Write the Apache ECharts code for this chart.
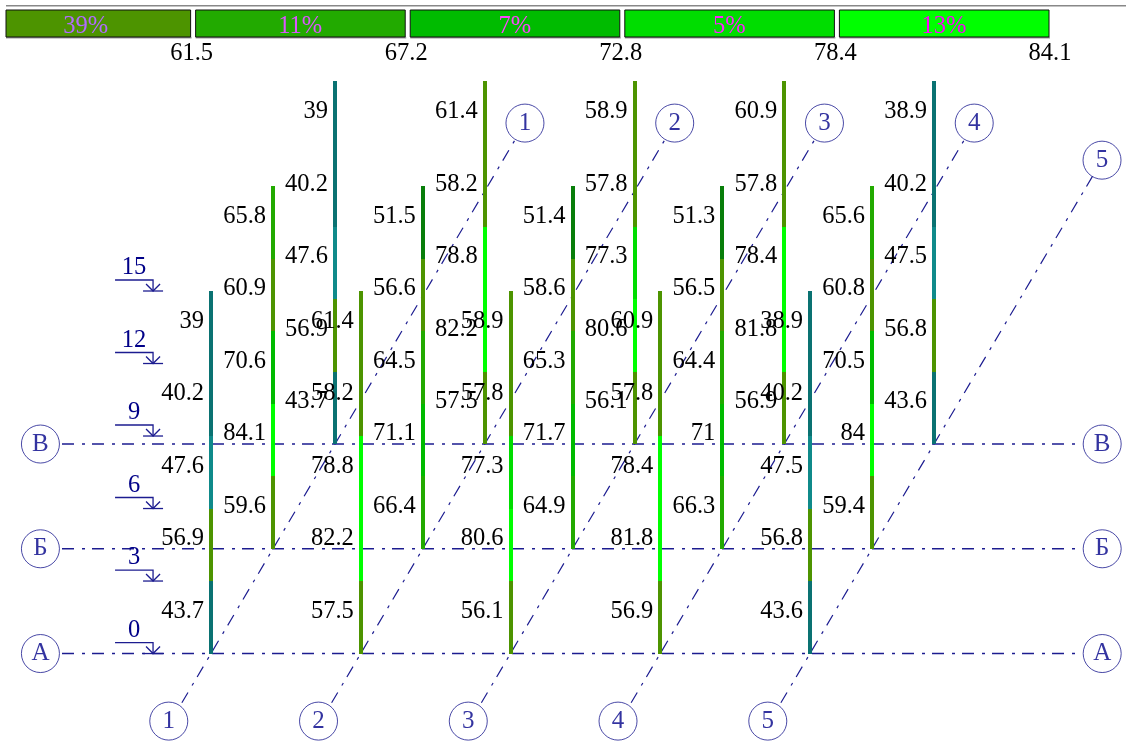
<!DOCTYPE html>
<html>
<head>
<meta charset="utf-8">
<style>
  html, body { margin: 0; padding: 0; background: #fff; }
  #chart { width: 1126px; height: 742px; }
</style>
</head>
<body>
<div id="chart"></div>
<script src="https://cdn.jsdelivr.net/npm/echarts@6/dist/echarts.min.js"></script>
<script>
  // grid names
  var rowNames = ['А', 'Б', 'В'];
  var colNames = ['1', '2', '3', '4', '5'];
  var levels = [0, 3, 6, 9, 12, 15];

  // values per column, bottom storey first
  var rowA = [
    [43.7, 56.9, 47.6, 40.2, 39],
    [57.5, 82.2, 78.8, 58.2, 61.4],
    [56.1, 80.6, 77.3, 57.8, 58.9],
    [56.9, 81.8, 78.4, 57.8, 60.9],
    [43.6, 56.8, 47.5, 40.2, 38.9]
  ];
  var rowB = [
    [59.6, 84.1, 70.6, 60.9, 65.8],
    [66.4, 71.1, 64.5, 56.6, 51.5],
    [64.9, 71.7, 65.3, 58.6, 51.4],
    [66.3, 71, 64.4, 56.5, 51.3],
    [59.4, 84, 70.5, 60.8, 65.6]
  ];
  var rowV = [
    [43.7, 56.9, 47.6, 40.2, 39],
    [57.5, 82.2, 78.8, 58.2, 61.4],
    [56.1, 80.6, 77.3, 57.8, 58.9],
    [56.9, 81.8, 78.4, 57.8, 60.9],
    [43.6, 56.8, 47.5, 40.2, 38.9]
  ];

  // legend: upper limit and share of each class
  var legendBreaks = [61.5, 67.2, 72.8, 78.4, 84.1];
  var legendShare = [39, 11, 7, 5, 13];

  // colours
  var lowBreaks = [45, 50, 55];
  var lowColors = ['#0a7272', '#0f8a8a', '#087e0a'];
  var legendColors = ['#4d9400', '#22aa00', '#00bb00', '#00dd00', '#00ff00'];
  var legendText = ['#b26bff', '#dd55ff', '#ff44ff', '#ff22ff', '#ff00ff'];
  var navy = '#1c1c90';
  var textNavy = '#000088';
  var serif = '"Liberation Serif", "Times New Roman", serif';
  var fontSize = 24.5;

  // oblique view: one row step moves right and up
  var skewX = 0.414, skewY = 4.334;
  function project(col, row, level) {
    return [col + row * skewX, level + row * skewY];
  }

  function colorOf(v) {
    for (var i = 0; i < lowBreaks.length; i++) {
      if (v < lowBreaks[i]) return lowColors[i];
    }
    for (var j = 0; j < legendBreaks.length; j++) {
      if (v < legendBreaks[j]) return legendColors[j];
    }
    return legendColors[legendColors.length - 1];
  }

  // one item per storey of each column
  var segments = [];
  [rowA, rowB, rowV].forEach(function (row, r) {
    row.forEach(function (column, c) {
      column.forEach(function (v, s) {
        segments.push({ value: [c, r, s, v] });
      });
    });
  });

  function renderSegment(params, api) {
    var c = api.value(0), r = api.value(1), s = api.value(2), v = api.value(3);
    var p0 = api.coord(project(c, r, levels[s]));
    var p1 = api.coord(project(c, r, levels[s + 1]));
    var bottom = Math.round(p0[1]), top = Math.round(p1[1]);
    return {
      type: 'rect',
      shape: { x: Math.round(p0[0] - 2), y: top, width: 4, height: bottom - top },
      style: { fill: colorOf(v) }
    };
  }

  function renderSegmentLabel(params, api) {
    var c = api.value(0), r = api.value(1), s = api.value(2), v = api.value(3);
    var p0 = api.coord(project(c, r, levels[s]));
    var p1 = api.coord(project(c, r, levels[s + 1]));
    return {
      type: 'text',
      style: {
        text: String(v),
        x: p0[0] - 7,
        y: (p0[1] + p1[1]) / 2 - 6,
        align: 'right',
        verticalAlign: 'middle',
        font: fontSize + 'px ' + serif,
        fill: '#000'
      }
    };
  }

  // level marks left of the frame
  function renderLevel(params, api) {
    var base = api.coord([-0.387, api.value(0)]);
    var x = base[0], y = base[1];
    var lineStyle = { stroke: navy, lineWidth: 1.3, fill: 'none' };
    return {
      type: 'group',
      children: [
        { type: 'polyline', shape: { points: [[x - 38, y - 11], [x, y - 11], [x, y]] }, style: lineStyle },
        { type: 'line', shape: { x1: x - 10, y1: y, x2: x + 10, y2: y }, style: lineStyle },
        { type: 'polyline', shape: { points: [[x - 7, y - 7], [x, y], [x + 7, y - 7]] }, style: lineStyle },
        {
          type: 'text',
          style: {
            text: String(api.value(0)),
            x: x - 19, y: y - 23,
            align: 'center', verticalAlign: 'middle',
            font: fontSize + 'px ' + serif, fill: textNavy
          }
        }
      ]
    };
  }

  function renderLegend(params, api) {
    var i = api.value(0);
    var left = api.coord([i - 1, 0]);
    var right = api.coord([i, 1]);
    var x0 = i === 0 ? api.coord([-0.865, 0])[0] : left[0] + 4;
    var top = right[1], h = left[1] - right[1];
    return {
      type: 'group',
      children: [
        { type: 'rect', shape: { x: x0, y: top + h, width: right[0] - x0, height: 1.5 }, style: { fill: '#999' } },
        { type: 'rect', shape: { x: x0, y: top, width: right[0] - x0 - 1, height: h }, style: { fill: legendColors[i], stroke: '#111', lineWidth: 1 } },
        {
          type: 'text',
          style: {
            text: legendShare[i] + '%',
            x: right[0] - 106, y: top + h / 2 + 3,
            align: 'center', verticalAlign: 'middle',
            font: fontSize + 'px ' + serif, fill: legendText[i]
          }
        },
        {
          type: 'text',
          style: {
            text: String(legendBreaks[i]),
            x: right[0], y: top + h + 17,
            align: 'center', verticalAlign: 'middle',
            font: fontSize + 'px ' + serif, fill: '#000'
          }
        }
      ]
    };
  }

  // construction lines
  var dash = [12, 8, 3, 7];
  var series = [];

  rowNames.forEach(function (name, r) {
    var lv = project(0, r, 0)[1];
    series.push({
      type: 'line', silent: true, symbol: 'none', z: 1,
      xAxisIndex: 0, yAxisIndex: 0,
      data: [[-0.995, lv], [5.79, lv]],
      lineStyle: { color: navy, width: 1.5, type: dash }
    });
  });

  colNames.forEach(function (name, c) {
    var topRow = c === 4 ? 4.56 : 4.92;
    series.push({
      type: 'line', silent: true, symbol: 'none', z: 1,
      xAxisIndex: 0, yAxisIndex: 0,
      data: [project(c, -0.47, 0), project(c, topRow, 0)],
      lineStyle: { color: navy, width: 1.2, type: dash }
    });
  });

  // circled grid marks
  var bubbles = [];
  rowNames.forEach(function (name, r) {
    var lv = project(0, r, 0)[1];
    bubbles.push({ value: [-1.139, lv], name: name });
    bubbles.push({ value: [5.951, lv], name: name });
  });
  colNames.forEach(function (name, c) {
    bubbles.push({ value: project(c - 0.015, -0.645, 0), name: name });
    bubbles.push({ value: project(c, c === 4 ? 4.71 : 5.064, 0), name: name });
  });
  series.push({
    type: 'scatter', silent: true, z: 3,
    xAxisIndex: 0, yAxisIndex: 0,
    symbol: 'circle', symbolSize: 38,
    data: bubbles,
    itemStyle: { color: '#fff', borderColor: navy, borderWidth: 1 },
    label: {
      show: true, position: 'inside',
      formatter: function (p) { return p.name; },
      fontFamily: serif, fontSize: 25, color: textNavy
    }
  });

  series.push({
    type: 'custom', silent: true, z: 2, clip: false,
    xAxisIndex: 0, yAxisIndex: 0,
    data: levels.map(function (l) { return [l]; }),
    encode: { x: -1, y: 0 },
    renderItem: renderLevel
  });
  series.push({
    type: 'custom', silent: true, z: 4, clip: false,
    xAxisIndex: 0, yAxisIndex: 0,
    data: segments,
    encode: { x: 0, y: 1 },
    renderItem: renderSegment
  });
  series.push({
    type: 'custom', silent: true, z: 5, clip: false,
    xAxisIndex: 0, yAxisIndex: 0,
    data: segments,
    encode: { x: 0, y: 1 },
    renderItem: renderSegmentLabel
  });
  series.push({
    type: 'custom', silent: true, z: 5, clip: false,
    xAxisIndex: 1, yAxisIndex: 1,
    data: legendShare.map(function (v, i) { return [i, v]; }),
    encode: { x: -1, y: -1 },
    renderItem: renderLegend
  });

  var chart = echarts.init(document.getElementById('chart'), null, { renderer: 'canvas' });
  chart.setOption({
    animation: false,
    backgroundColor: '#fff',
    tooltip: { show: false },
    grid: [
      { left: 0, right: 0, top: 0, bottom: 0 },
      { left: 6, width: 1044, top: 10, height: 27 }
    ],
    xAxis: [
      { type: 'value', gridIndex: 0, min: -1.409, max: 6.11, show: false },
      // legend classes are evenly spaced, first one is cut by the page edge
      { type: 'value', gridIndex: 1, min: -0.865, max: 4, show: false }
    ],
    yAxis: [
      { type: 'value', gridIndex: 0, min: -3.66, max: 27.04, show: false },
      { type: 'value', gridIndex: 1, min: 0, max: 1, show: false }
    ],
    graphic: [
      { type: 'rect', left: 6, top: 5, shape: { width: 1120, height: 1.5 }, style: { fill: '#888' } }
    ],
    series: series
  });
</script>
</body>
</html>
